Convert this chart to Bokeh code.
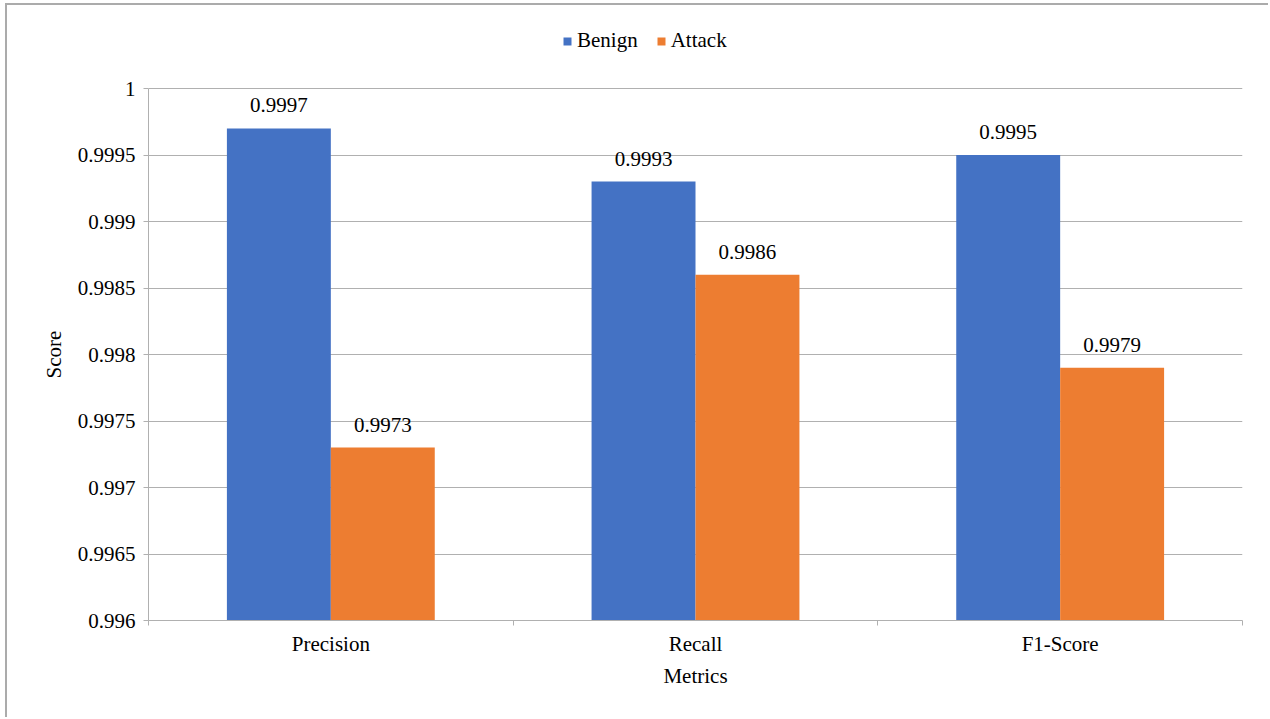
from bokeh.plotting import figure
from bokeh.models import ColumnDataSource, FixedTicker, Legend, LegendItem, Title
from bokeh.core.properties import value
from bokeh.embed import file_html
from bokeh.resources import INLINE

categories = ["Precision", "Recall", "F1-Score"]
series_names = ["Benign", "Attack"]
benign = [0.9997, 0.9993, 0.9995]
attack = [0.9973, 0.9986, 0.9979]
colors = ["#4472C4", "#ED7D31"]
y_ticks = [0.996, 0.9965, 0.997, 0.9975, 0.998, 0.9985, 0.999, 0.9995, 1.0]
y_tick_labels = ["0.996", "0.9965", "0.997", "0.9975", "0.998", "0.9985", "0.999", "0.9995", "1"]
y_min, y_max = 0.996, 1.0
x_title = "Metrics"
y_title = "Score"

FONT = "Liberation Serif"
FS = "21px"
AXIS_COLOR = "#b0b0b0"

# layout (screen pixels)
FIG_TOP = 5          # figure top edge in the window
FRAME_TOP = 20       # frame top in the window (room for legend inside frame)
AXIS_TOP = 88        # where y_max sits
AXIS_BOTTOM = 620    # where y_min sits
y_end = y_max + (AXIS_TOP - FRAME_TOP) / (AXIS_BOTTOM - AXIS_TOP) * (y_max - y_min)

bar_w = 0.285
offsets = [-bar_w / 2, bar_w / 2]

p = figure(width=1263, height=714, output_backend="svg", toolbar_location=None,
           x_range=(0, len(categories)), y_range=(y_min, y_end),
           min_border_left=141, min_border_top=FRAME_TOP - FIG_TOP,
           min_border_right=28, min_border_bottom=99)
p.styles = {"border-left": "2px solid #ababab", "border-top": "2px solid #ababab",
            "margin-left": "5px", "margin-top": "3px"}
p.outline_line_color = None
p.background_fill_color = "white"
p.border_fill_color = "white"

renderers = []
for vals, off, col in zip([benign, attack], offsets, colors):
    src = ColumnDataSource(dict(
        x=[i + 0.5 + off for i in range(len(categories))],
        top=vals,
        label=[f"{v:.4f}" for v in vals],
    ))
    r = p.vbar(x="x", top="top", bottom=y_min, width=bar_w, source=src,
               fill_color=col, line_color=None)
    renderers.append(r)
    p.text(x="x", y="top", text="label", source=src, y_offset=-16,
           text_align="center", text_baseline="bottom",
           text_font=value(FONT), text_font_size=value(FS), text_color="black")

# x axis
xa = p.xaxis[0]
xa.ticker = FixedTicker(ticks=[i + 0.5 for i in range(len(categories))],
                        minor_ticks=list(range(len(categories) + 1)))
xa.major_label_overrides = {i + 0.5: c for i, c in enumerate(categories)}
xa.major_tick_line_color = None
xa.major_tick_out = 0
xa.major_tick_in = 0
xa.minor_tick_out = 5
xa.minor_tick_in = 0
xa.minor_tick_line_color = AXIS_COLOR
xa.axis_line_color = AXIS_COLOR
xa.major_label_standoff = 6
xa.major_label_text_font = FONT
xa.major_label_text_font_size = FS
xa.major_label_text_color = "black"
xa.axis_label = x_title
xa.axis_label_text_font = FONT
xa.axis_label_text_font_size = FS
xa.axis_label_text_font_style = "normal"
xa.axis_label_text_color = "black"
xa.axis_label_standoff = 5

# y axis
ya = p.yaxis[0]
ya.ticker = FixedTicker(ticks=y_ticks)
ya.bounds = (y_min, y_max)
ya.major_label_overrides = {t: l for t, l in zip(y_ticks, y_tick_labels)}
ya.major_tick_out = 5
ya.major_tick_in = 0
ya.major_tick_line_color = AXIS_COLOR
ya.minor_tick_line_color = None
ya.axis_line_color = AXIS_COLOR
ya.major_label_standoff = 8
ya.major_label_text_font = FONT
ya.major_label_text_font_size = FS
ya.major_label_text_color = "black"

# y axis title, centred on the axis span (not on the taller frame)
label_w = 48
offset = (AXIS_BOTTOM - (AXIS_TOP + AXIS_BOTTOM) / 2) - label_w / 2
ytitle = Title(text=y_title, align="left", offset=offset, standoff=17,
               text_font=FONT, text_font_size=FS, text_font_style="normal",
               text_color="black")
p.add_layout(ytitle, "left")

p.xgrid.grid_line_color = None
p.ygrid.ticker = FixedTicker(ticks=y_ticks)
p.ygrid.grid_line_color = AXIS_COLOR
p.ygrid.grid_line_width = 1

legend = Legend(items=[LegendItem(label=n, renderers=[r]) for n, r in zip(series_names, renderers)],
                location=(414, 567), orientation="horizontal",
                glyph_width=10, glyph_height=10, label_standoff=5, spacing=18,
                padding=0, margin=0, border_line_color=None, background_fill_alpha=0,
                label_text_font=FONT, label_text_font_size=FS, label_text_color="black")
p.add_layout(legend, "center")

open("out.html", "w").write(file_html(p, INLINE))
